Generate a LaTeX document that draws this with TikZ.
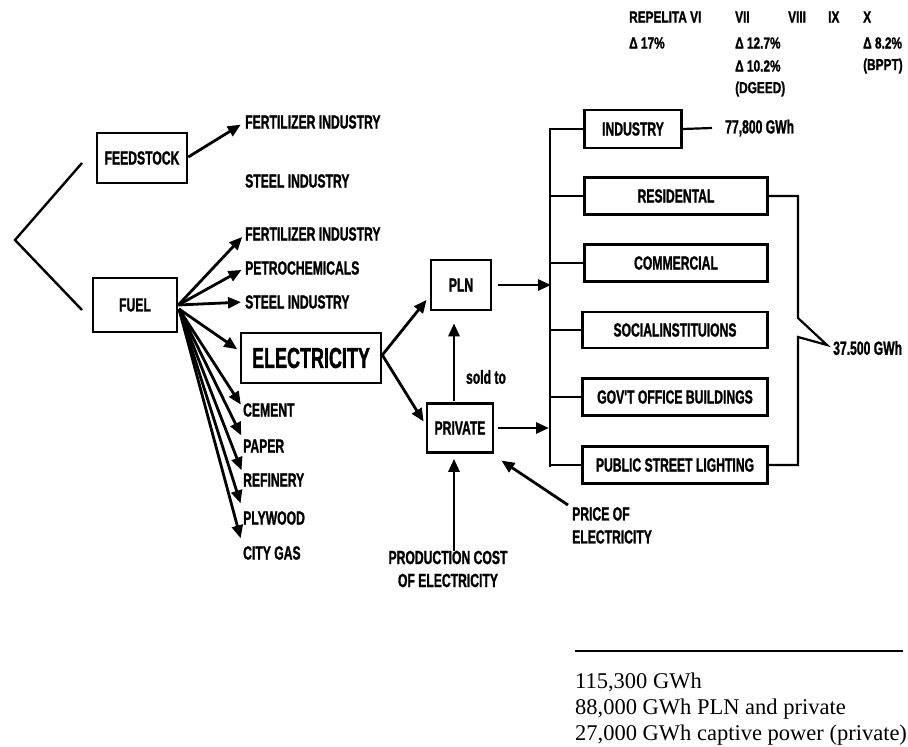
\documentclass[tikz,border=0pt]{standalone}
\usepackage{fontspec}
\setmainfont{Liberation Serif}
\newfontfamily\cond{Liberation Sans Bold}[FakeStretch=0.64,FakeBold=1.2]
\newfontfamily\condh{Liberation Sans Bold}[FakeStretch=0.74,FakeBold=1.2]
\newfontfamily\condb{Liberation Sans Bold}[FakeStretch=0.62,FakeBold=1.2]
\usetikzlibrary{arrows.meta,calc}
\begin{document}
\begin{tikzpicture}[x=1pt,y=-1pt,
  arr/.style={line width=2.8pt,-{Triangle[length=13pt,width=11pt]}},
  lbl/.style={font=\cond\fontsize{19}{20}\selectfont,inner sep=0pt,anchor=west},
  hdr/.style={font=\condh\fontsize{16}{17}\selectfont,inner sep=0pt,anchor=west},
  box/.style={draw,line width=2.6pt,inner sep=0pt,font=\cond\fontsize{19}{20}\selectfont},
  rline/.style={line width=2.2pt},
  note/.style={font=\fontsize{22.5}{24}\selectfont,inner sep=0pt,anchor=base west}
]
\useasboundingbox[fill=white] (0,0) rectangle (908,747);

% header
\node[hdr] (h1) at (629,17) {REPELITA VI};
\node[hdr] (h2) at (735,17) {VII};
\node[hdr] (h3) at (788,17) {VIII};
\node[hdr] (h4) at (828,17) {IX};
\node[hdr] (h5) at (863,17) {X};
\node[hdr] (d1) at (629,43) {Δ 17\%};
\node[hdr] (d2) at (735,43) {Δ 12.7\%};
\node[hdr] (d3) at (863,43) {Δ 8.2\%};
\node[hdr] (d4) at (735,66) {Δ 10.2\%};
\node[hdr] (d5) at (863,66) {(BPPT)};
\node[hdr] (d6) at (735,89) {(DGEED)};

% left bracket
\coordinate (bt) at (82,163);
\coordinate (bm) at (15,240);
\coordinate (bb) at (82,310);
\draw[line width=2.4pt] (bt) -- (bm) -- (bb);

% feedstock
\node[box,minimum width=90pt,minimum height=50pt] (feed) at (142,158) {FEEDSTOCK};
\node[lbl] (ff) at (245,122) {FERTILIZER INDUSTRY};
\node[lbl] (fs) at (245,181) {STEEL INDUSTRY};
\draw[arr,shorten >=5pt] ([yshift=1pt]feed.east) -- (ff.west);

% fuel
\node[box,minimum width=84pt,minimum height=54pt] (fuel) at (135,305) {FUEL};
\coordinate (fo) at (179,309);
\node[lbl] (t1) at (245,234) {FERTILIZER INDUSTRY};
\node[lbl] (t2) at (245,268) {PETROCHEMICALS};
\node[lbl] (t3) at (245,302) {STEEL INDUSTRY};
\node[box,minimum width=140pt,minimum height=50pt,font=\condb\fontsize{29}{30}\selectfont] (elec) at (311,358) {ELECTRICITY};
\node[lbl] (t5) at (243,410) {CEMENT};
\node[lbl] (t6) at (243,446) {PAPER};
\node[lbl] (t7) at (243,480) {REFINERY};
\node[lbl] (t8) at (243,518) {PLYWOOD};
\node[lbl] (t9) at (243,553) {CITY GAS};
\draw[arr,shorten >=4pt] (fuel.east) -- (t1.west);
\draw[arr,shorten >=4pt] (fuel.east) -- (t2.west);
\draw[arr,shorten >=4pt] (fuel.east) -- (t3.west);
\draw[arr,shorten >=3pt] (fo) -- ([yshift=7pt]elec.west);
\draw[arr,shorten >=4pt] (fo) -- ([yshift=2pt]t5.west);
\draw[arr,shorten >=4pt] (fo) -- ([yshift=7pt]t6.west);
\draw[arr,shorten >=4pt] (fo) -- ([yshift=6pt]t7.west);
\draw[arr,shorten >=8pt] (fo) -- ([yshift=7pt]t8.west);
\draw[arr,shorten >=9pt] (fo) -- ([yshift=6pt]t9.west);

% PLN / private
\node[box,minimum width=60pt,minimum height=50pt] (pln) at (461,285) {PLN};
\node[box,minimum width=66pt,minimum height=49pt] (priv) at (460,428) {PRIVATE};
\draw[arr,shorten >=5pt] ([yshift=3pt]elec.east) -- ($(pln.west)+(0,11)$);
\draw[arr,shorten >=4pt] ([yshift=3pt]elec.east) -- ($(priv.west)+(0,-3)$);
\draw[arr,shorten <=1pt,shorten >=12pt] ($(priv.north)+(-6,0)$) -- ($(pln.south)+(-7,0)$);
\node[lbl,anchor=center] (sold) at (486,377) {sold to};

% production cost / price
\node[lbl,anchor=center,align=center,font=\cond\fontsize{19}{23}\selectfont] (prod) at (448,569) {PRODUCTION COST\\OF ELECTRICITY};
\draw[arr,shorten >=5pt] ($(prod.north)+(6,0)$) -- ($(priv.south)+(-6,0)$);
\node[lbl,anchor=north west,align=left,font=\cond\fontsize{19}{23}\selectfont] (price) at (572,507) {PRICE OF\\ELECTRICITY};
\coordinate (po) at (568,505);
\draw[arr,shorten >=5pt] (po) -- ($(priv.south east)+(3,4)$);

% right panel
\node[box,minimum width=97pt,minimum height=38pt] (ind) at (633,129) {INDUSTRY};
\node[box,minimum width=183pt,minimum height=37pt] (res) at (676,196) {RESIDENTAL};
\node[box,minimum width=183pt,minimum height=37pt] (com) at (676,263) {COMMERCIAL};
\node[box,minimum width=185pt,minimum height=36pt] (soc) at (675,330) {SOCIALINSTITUIONS};
\node[box,minimum width=185pt,minimum height=37pt] (gov) at (675,397) {GOV'T OFFICE BUILDINGS};
\node[box,minimum width=185pt,minimum height=37pt] (pub) at (675,465) {PUBLIC STREET LIGHTING};
\coordinate (busT) at (550,128);
\coordinate (busB) at (550,467);
\draw[rline] (busT) -- (busB);
\foreach \n in {ind,res,com,soc,gov,pub} \draw[rline] (\n.west) -- (\n.west -| busT);
\draw[arr,shorten >=5pt] ([xshift=6pt]pln.east) -- ([xshift=6pt]pln.east -| busT);
\draw[arr,shorten >=5pt] ([xshift=4pt]priv.east) -- ([xshift=4pt]priv.east -| busT);

\node[lbl] (g1) at (725,128) {77,800 GWh};
\coordinate (ie) at (712,128);
\draw[rline] (ind.east) -- (ie);

\coordinate (brA) at (798,318);
\coordinate (brP) at (827,345);
\coordinate (brB) at (798,337);
\draw[rline] (res.east) -| (brA) -- (brP) -- (brB) |- (pub.east);
\node[lbl] (g2) at (833,348) {37.500 GWh};

% bottom notes
\coordinate (rl) at (575,651);
\coordinate (rr) at (903,651);
\draw[line width=2.4pt] (rl) -- (rr);
\node[note] (n1) at (575,688) {115,300 GWh};
\node[note] (n2) at (575,714) {88,000 GWh PLN and private};
\node[note] (n3) at (575,740) {27,000 GWh captive power (private)};
\end{tikzpicture}
\end{document}
